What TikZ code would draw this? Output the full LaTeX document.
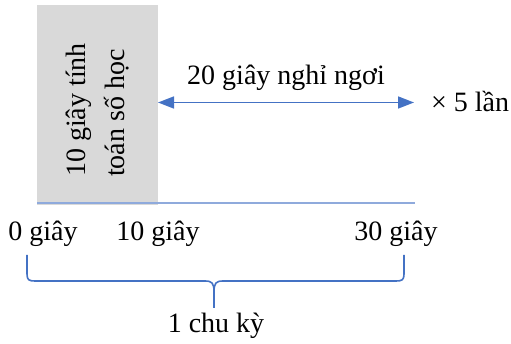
\documentclass[tikz,border=0pt]{standalone}
\usepackage{fontspec}
\setmainfont{Liberation Serif}
\usetikzlibrary{arrows.meta}
\definecolor{axisblue}{HTML}{8FAADC}
\definecolor{darkblue}{HTML}{4472C4}
\definecolor{boxgray}{HTML}{D9D9D9}
\begin{document}
\begin{tikzpicture}[x=1pt,y=-1pt,
  lbl/.style={inner sep=0pt,anchor=base,font=\fontsize{28}{34}\selectfont},
  vlbl/.style={inner sep=0pt,anchor=base west,rotate=90,font=\fontsize{28}{34}\selectfont},
  axisline/.style={draw=axisblue,line width=1.5pt},
  spanarrow/.style={draw=darkblue,line width=1.6pt,{Triangle[length=16pt,width=12pt]}-{Triangle[length=16pt,width=12pt]}},
  bracestyle/.style={draw=darkblue,line width=1.6pt,line join=round}]
\useasboundingbox (0,0) rectangle (511,344);
% gray box
\path[fill=boxgray] (37,5) rectangle (158,205);
\coordinate (boxR) at (158,102.5);
\coordinate (endR) at (414,102.5);
\node[vlbl] (t1) at (85,177) {10 giây tính};
\node[vlbl] (t2) at (124,177) {toán số học};
% axis
\coordinate (a0) at (37,203);
\coordinate (a1) at (415,203);
\draw[axisline] (a0) -- (a1);
% arrow
\draw[spanarrow] (boxR) -- (endR);
\node[lbl] (rest) at (286,85) {20 giây nghỉ ngơi};
\node[lbl] (times) at (470,112) {× 5 lần};
% tick labels
\node[lbl] (l0) at (43,241) {0 giây};
\node[lbl] (l10) at (158,241) {10 giây};
\node[lbl] (l30) at (396,241) {30 giây};
% brace
\draw[bracestyle] (27,255) -- (27,274) .. controls (27,280) and (29,281) .. (35,281)
  -- (205,281) .. controls (212,281) and (214,283) .. (214,292) -- (214,308);
\draw[bracestyle] (214,292) .. controls (214,283) and (216,281) .. (223,281)
  -- (396,281) .. controls (402,281) and (404,280) .. (404,274) -- (404,255);
\node[lbl] (cyc) at (216,333) {1 chu kỳ};
\end{tikzpicture}
\end{document}
